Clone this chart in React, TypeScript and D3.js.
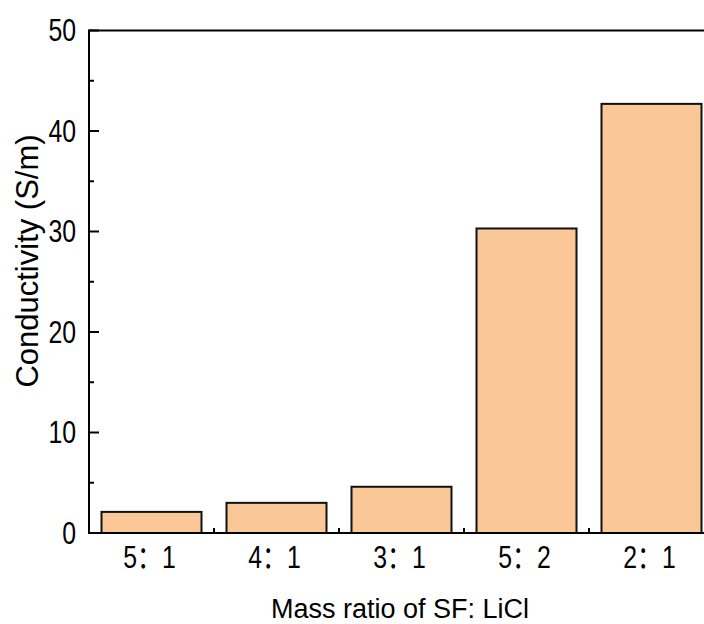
import React from "react";
import * as d3 from "d3";

const categories = ["5：1", "4：1", "3：1", "5：2", "2：1"];
const conductivity = [2.1, 3.0, 4.6, 30.3, 42.7];
const yTicks = [0, 10, 20, 30, 40, 50];
const yMinorTicks = [5, 15, 25, 35, 45];
const yLabel = "Conductivity (S/m)";
const xLabel = "Mass ratio of SF: LiCl";

const W = 704;
const H = 624;
const left = 89;
const right = 714;
const top = 30.5;
const bottom = 533;

export default function App() {
  const x = d3
    .scaleBand<string>()
    .domain(categories)
    .range([left, right])
    .paddingInner(0.2)
    .paddingOuter(0.1);
  const y = d3.scaleLinear().domain([0, 50]).range([bottom, top]);
  const step = x.step();
  const boundaries = categories.slice(1).map((c) => (x(c) as number) - (step - x.bandwidth()) / 2);
  const font = "'Liberation Sans', Arial, sans-serif";
  const narrow = 0.8;

  return (
    <svg
      width={W}
      height={H}
      style={{ position: "absolute", left: 0, top: 0, background: "#fff" }}
    >
      <rect x={0} y={0} width={W} height={H} fill="#fff" />
      {categories.map((c) => {
        const cx = (x(c) as number) + x.bandwidth() / 2;
        return <line key={"xt" + c} x1={cx} x2={cx} y1={bottom} y2={bottom - 10} stroke="#000" strokeWidth={2} />;
      })}
      {boundaries.map((bx, i) => (
        <line key={"xm" + i} x1={bx} x2={bx} y1={bottom} y2={bottom - 5} stroke="#000" strokeWidth={2} />
      ))}
      {categories.map((c, i) => (
        <rect
          key={"b" + c}
          x={x(c) as number}
          y={y(conductivity[i])}
          width={x.bandwidth()}
          height={bottom - y(conductivity[i])}
          fill="#FAC896"
          stroke="#111"
          strokeWidth={2}
        />
      ))}
      {yTicks.map((t) => (
        <g key={"yt" + t}>
          <line x1={left} x2={left + 10} y1={y(t)} y2={y(t)} stroke="#000" strokeWidth={2} />
          <text
            transform={`translate(76,${y(t) + 10.5}) scale(${narrow},1)`}
            textAnchor="end"
            fontFamily={font}
            fontSize={31}
            fill="#000"
          >
            {t}
          </text>
        </g>
      ))}
      {yMinorTicks.map((t) => (
        <line key={"ym" + t} x1={left} x2={left + 5} y1={y(t)} y2={y(t)} stroke="#000" strokeWidth={2} />
      ))}
      <line x1={left} x2={right} y1={bottom} y2={bottom} stroke="#000" strokeWidth={2} />
      <line x1={left} x2={right} y1={top} y2={top} stroke="#000" strokeWidth={2} />
      <line x1={left} x2={left} y1={top - 1} y2={bottom + 1} stroke="#000" strokeWidth={2} />
      <line x1={right} x2={right} y1={top - 1} y2={bottom + 1} stroke="#000" strokeWidth={2} />
      {categories.map((c) => {
        const cx = (x(c) as number) + x.bandwidth() / 2 - 2;
        return (
          <text
            key={"xl" + c}
            transform={`translate(${cx},568) scale(${narrow},1)`}
            textAnchor="middle"
            fontFamily={"'Liberation Sans', Arial, 'Noto Sans CJK SC', sans-serif"}
            fontSize={31}
            fill="#000"
          >
            {c}
          </text>
        );
      })}
      <text
        x={400}
        y={618}
        textAnchor="middle"
        fontFamily={font}
        fontSize={27}
        fill="#000"
      >
        {xLabel}
      </text>
      <text
        transform={`translate(38,261) rotate(-90)`}
        textAnchor="middle"
        fontFamily={font}
        fontSize={31}
        fill="#000"
      >
        {yLabel}
      </text>
    </svg>
  );
}
